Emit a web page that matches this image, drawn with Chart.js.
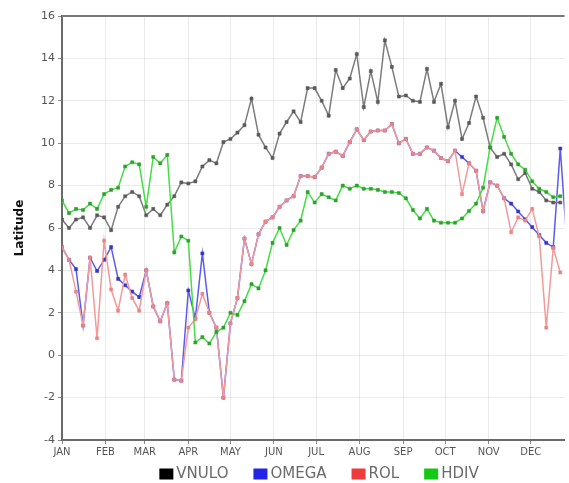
<!DOCTYPE html>
<html lang="en">
<head>
    <meta charset="UTF-8">
    <title>Latitude by pentad</title>
    <script src="https://cdn.jsdelivr.net/npm/chart.js"></script>
    <style>
        body, html {
            margin: 0;
            padding: 0;
            background: #fff;
        }
        #wrap {
            width: 569px;
            height: 483px;
        }
    </style>
</head>
<body>
    <div id="wrap"><canvas id="chart" width="569" height="483"></canvas></div>

    <script>
        // Day of year for each pentad (x positions)
        const days = [0, 5, 10, 15, 20, 25, 30, 35, 40, 45, 50, 55, 60, 65, 70, 75, 80, 85, 90, 95,
            100, 105, 110, 115, 120, 125, 130, 135, 140, 145, 150, 155, 160, 165, 170, 175, 180, 185, 190, 195,
            200, 205, 210, 215, 220, 225, 230, 235, 240, 245, 250, 255, 260, 265, 270, 275, 280, 285, 290, 295,
            300, 305, 310, 315, 320, 325, 330, 335, 340, 345, 350, 355, 360];

        const vnulo = [6.4, 6.0, 6.4, 6.5, 6.0, 6.6, 6.5, 5.9, 7.0, 7.5,
            7.7, 7.5, 6.6, 6.9, 6.6, 7.1, 7.5, 8.15, 8.1, 8.2,
            8.9, 9.2, 9.05, 10.05, 10.2, 10.5, 10.85, 12.1, 10.4, 9.8,
            9.3, 10.45, 11.0, 11.5, 11.0, 12.6, 12.6, 12.0, 11.3, 13.45,
            12.6, 13.05, 14.2, 11.7, 13.4, 11.95, 14.85, 13.6, 12.2, 12.25,
            12.0, 11.95, 13.5, 11.95, 12.8, 10.75, 12.0, 10.2, 10.95, 12.2,
            11.2, 9.8, 9.35, 9.5, 9.0, 8.3, 8.6, 7.85, 7.7, 7.3,
            7.2, 7.2];

        const omega = [5.1, 4.5, 4.06, 1.4, 4.6, 3.97, 4.5, 5.1, 3.6, 3.3,
            3.0, 2.74, 4.0, 2.3, 1.6, 2.45, -1.15, -1.2, 3.05, 1.75,
            4.8, 2.0, 1.3, -2.0, 1.5, 2.7, 5.5, 4.3, 5.7, 6.3,
            6.5, 7.0, 7.3, 7.5, 8.45, 8.45, 8.4, 8.85, 9.5, 9.6,
            9.4, 10.05, 10.65, 10.15, 10.55, 10.6, 10.6, 10.9, 10.0, 10.2,
            9.5, 9.5, 9.8, 9.65, 9.3, 9.15, 9.65, 9.35, 9.05, 8.7,
            6.8, 8.15, 8.0, 7.4, 7.15, 6.78, 6.41, 6.04, 5.67, 5.3,
            5.1, 9.75, 5.0];

        const rol = [5.1, 4.5, 3.0, 1.4, 4.6, 0.8, 5.4, 3.1, 2.1, 3.8,
            2.7, 2.1, 4.0, 2.3, 1.6, 2.45, -1.15, -1.2, 1.3, 1.7,
            2.9, 2.0, 1.3, -2.0, 1.5, 2.7, 5.5, 4.3, 5.7, 6.3,
            6.5, 7.0, 7.3, 7.5, 8.45, 8.45, 8.4, 8.85, 9.5, 9.6,
            9.4, 10.05, 10.65, 10.15, 10.55, 10.6, 10.6, 10.9, 10.0, 10.2,
            9.5, 9.5, 9.8, 9.65, 9.3, 9.15, 9.65, 7.6, 9.05, 8.7,
            6.8, 8.15, 8.0, 7.4, 5.8, 6.5, 6.35, 6.9, 5.6, 1.3,
            5.05, 3.9];

        const hdiv = [7.3, 6.7, 6.9, 6.85, 7.15, 6.9, 7.6, 7.8, 7.9, 8.9,
            9.1, 9.0, 7.0, 9.35, 9.05, 9.45, 4.85, 5.6, 5.4, 0.6,
            0.85, 0.55, 1.1, 1.3, 2.0, 1.9, 2.55, 3.35, 3.15, 4.0,
            5.3, 6.0, 5.2, 5.9, 6.35, 7.7, 7.2, 7.6, 7.45, 7.3,
            8.0, 7.85, 8.0, 7.85, 7.85, 7.8, 7.7, 7.7, 7.65, 7.4,
            6.85, 6.45, 6.9, 6.35, 6.25, 6.25, 6.25, 6.45, 6.8, 7.15,
            7.9, 9.8, 11.2, 10.3, 9.5, 9.0, 8.75, 8.2, 7.85, 7.7,
            7.45, 7.5];

        const monthStarts = [0, 31, 59, 90, 120, 151, 181, 212, 243, 273, 304, 334];
        const monthLabels = ['JAN', 'FEB', 'MAR', 'APR', 'MAY', 'JUN', 'JUL', 'AUG', 'SEP', 'OCT', 'NOV', 'DEC'];

        const seriesNames = ['VNULO', 'OMEGA', 'ROL', 'HDIV'];
        const legendColors = ['#000000', '#2424e6', '#ee3b3b', '#14c814'];

        function toPoints(values) {
            return values.map((v, i) => ({ x: days[i], y: v }));
        }

        // Top border of the plot + legend drawn under the axis
        const frameAndLegend = {
            id: 'frameAndLegend',
            afterDraw(chart) {
                const ctx = chart.ctx;
                const area = chart.chartArea;
                ctx.save();
                ctx.strokeStyle = '#7a7a7a';
                ctx.lineWidth = 2;
                ctx.beginPath();
                ctx.moveTo(area.left, area.top);
                ctx.lineTo(area.right, area.top);
                ctx.stroke();

                ctx.font = '15px "DejaVu Sans"';
                ctx.textBaseline = 'middle';
                const box = 14, gap = 3, space = 25;
                const widths = seriesNames.map(n => ctx.measureText(n).width);
                const total = widths.reduce((s, w) => s + box + gap + w, 0) + space * (seriesNames.length - 1);
                let x = 319 - total / 2;
                const y = 474;
                seriesNames.forEach((name, i) => {
                    ctx.fillStyle = legendColors[i];
                    ctx.fillRect(x, y - 5.5, box, 11);
                    ctx.fillStyle = '#6a6a6a';
                    ctx.fillText(name, x + box + gap, y + 0.5);
                    x += box + gap + widths[i] + space;
                });
                ctx.restore();
            }
        };

        const lineStyle = {
            borderWidth: 1.5,
            tension: 0,
            pointStyle: 'rect',
            pointRadius: 2.2,
            pointBorderWidth: 0.5,
            fill: false
        };

        new Chart(document.getElementById('chart'), {
            type: 'line',
            data: {
                datasets: [{
                    label: 'VNULO',
                    data: toPoints(vnulo),
                    borderColor: '#7c7c7c',
                    backgroundColor: '#000',
                    pointBackgroundColor: '#5a5a5a',
                    pointBorderColor: '#5a5a5a',
                    order: 2,
                    ...lineStyle
                }, {
                    label: 'OMEGA',
                    data: toPoints(omega),
                    borderColor: '#5a5af2',
                    backgroundColor: '#2424e6',
                    pointBackgroundColor: '#3535c8',
                    pointBorderColor: '#3535c8',
                    order: 3,
                    ...lineStyle
                }, {
                    label: 'ROL',
                    data: toPoints(rol),
                    borderColor: '#f29a9a',
                    backgroundColor: '#ee3b3b',
                    pointBackgroundColor: '#ec8585',
                    pointBorderColor: '#ec8585',
                    order: 1,
                    ...lineStyle
                }, {
                    label: 'HDIV',
                    data: toPoints(hdiv),
                    borderColor: '#44dd44',
                    backgroundColor: '#14c814',
                    pointBackgroundColor: '#2f9f2f',
                    pointBorderColor: '#2f9f2f',
                    order: 0,
                    ...lineStyle
                }]
            },
            options: {
                responsive: false,
                animation: false,
                layout: { padding: { top: 16, right: 0, bottom: 20, left: 0 } },
                plugins: {
                    legend: { display: false },
                    tooltip: { enabled: false }
                },
                scales: {
                    x: {
                        type: 'linear',
                        min: 0,
                        max: 358,
                        afterBuildTicks: (scale) => {
                            scale.ticks = monthStarts.map(v => ({ value: v }));
                        },
                        afterFit: (scale) => { scale.height = 23; },
                        ticks: {
                            autoSkip: false,
                            maxRotation: 0,
                            padding: 2,
                            color: '#555',
                            font: { family: 'DejaVu Sans', size: 10 },
                            callback: (value, index) => monthLabels[index]
                        },
                        grid: {
                            color: 'rgba(0,0,0,0.08)',
                            tickColor: '#888',
                            tickLength: 4
                        },
                        border: { color: '#6a6a6a', width: 2 }
                    },
                    y: {
                        min: -4,
                        max: 16,
                        afterFit: (scale) => { scale.width = 62; },
                        ticks: {
                            stepSize: 2,
                            padding: 3,
                            color: '#555',
                            font: { family: 'DejaVu Sans', size: 11 }
                        },
                        grid: {
                            color: 'rgba(0,0,0,0.08)',
                            tickColor: '#888',
                            tickLength: 4
                        },
                        border: { color: '#6a6a6a', width: 2 },
                        title: {
                            display: true,
                            text: 'Latitude',
                            color: '#111',
                            font: { family: 'DejaVu Sans', size: 12, weight: 'bold' },
                            padding: { top: 13, bottom: 0 }
                        }
                    }
                }
            },
            plugins: [frameAndLegend]
        });
    </script>
</body>
</html>
